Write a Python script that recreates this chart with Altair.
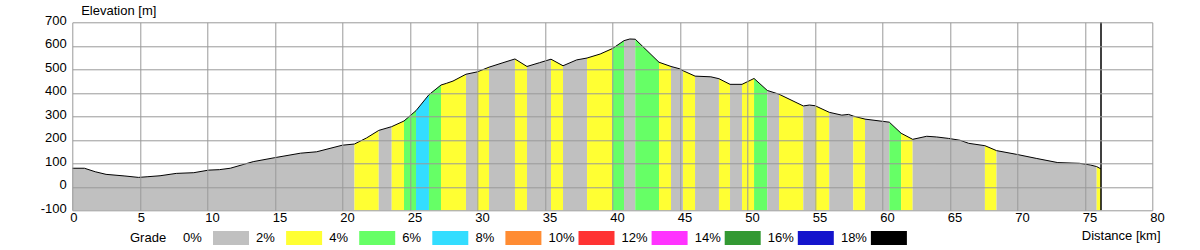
import altair as alt
import pandas as pd

# ---- profile data ----
dist_km = [0.0, 0.9, 1.7, 2.5, 3.9, 4.9, 5.6, 6.5, 7.7, 9.0, 10.1, 10.9, 11.7, 13.4, 15.0,
           16.9, 18.1, 20.0, 20.9, 21.8, 22.7, 23.66, 24.57, 25.46, 26.42, 27.31, 27.7, 28.2,
           29.16, 30.0, 30.87, 31.9, 32.79, 33.68, 34.6, 35.46, 36.35, 37.36, 38.13, 39.1,
           40.0, 40.87, 41.3, 41.7, 43.46, 44.35, 45.0, 45.24, 46.13, 47.3, 47.9, 48.72,
           49.61, 50.5, 51.48, 52.35, 54.15, 54.6, 55.02, 56.07, 57.0, 57.5, 57.85, 58.72,
           60.52, 61.39, 62.25, 63.29, 64.03, 64.89, 65.76, 66.4, 67.6, 68.46, 69.95, 71.4,
           73.0, 74.6, 75.4, 75.88, 76.2]
elev_m = [79, 79, 64, 53, 46, 40, 43, 47, 57, 60, 71, 73, 79, 107, 124,
          143, 149, 177, 182, 208, 240, 256, 280, 324, 392, 433, 440, 450,
          479, 489, 509, 528, 544, 512, 528, 543, 515, 540, 548, 565,
          588, 622, 629, 628, 530, 512, 502, 494, 471, 468, 460, 436,
          436, 461, 410, 394, 344, 348, 345, 317, 305, 308, 301, 288,
          275, 228, 202, 215, 212, 206, 198, 185, 175, 154, 138, 121,
          103, 100, 93, 86, 76]
# grade class of each interval (index into legend colours)
grade_cls = [0, 0, 0, 0, 0, 0, 0, 0, 0, 0, 0, 0, 0, 0, 0,
             0, 0, 0, 1, 1, 0, 1, 2, 3, 2, 1, 1, 1,
             0, 1, 0, 0, 1, 0, 0, 1, 0, 0, 1, 1,
             2, 0, 0, 2, 1, 0, 0, 1, 0, 0, 1, 0,
             1, 2, 0, 1, 0, 0, 1, 0, 0, 0, 1, 0,
             2, 1, 0, 0, 0, 0, 0, 0, 1, 0, 0, 0,
             0, 0, 0, 1]

grade_labels = ["0%", "2%", "4%", "6%", "8%", "10%", "12%", "14%", "16%", "18%"]
grade_colors = ["#C0C0C0", "#FFFF33", "#66FF66", "#33DDFF", "#FF8C33",
                "#FF3333", "#FF33FF", "#339933", "#1414CC", "#000000"]

FONT = "Liberation Sans"
FS = 13

# ---- build tables ----
profile = pd.DataFrame({"d": dist_km, "e": elev_m})
rows = []
seg = 0
for k, c in enumerate(grade_cls):
    if k > 0 and c != grade_cls[k - 1]:
        seg += 1
    rows.append({"seg": seg, "d": dist_km[k], "e": elev_m[k], "cls": c})
    rows.append({"seg": seg, "d": dist_km[k + 1], "e": elev_m[k + 1], "cls": c})
segs = pd.DataFrame(rows)

xscale = alt.Scale(domain=[0, 80], nice=False)
yscale = alt.Scale(domain=[-100, 700], nice=False)

x_axis = alt.Axis(values=list(range(0, 81, 5)), grid=True, gridColor="#999999", gridWidth=1,
                  domain=False, ticks=False, labelFont=FONT, labelFontSize=FS, labelColor="black",
                  labelAlign="left", labelOffset=-2.5, labelBaseline="top", labelPadding=1,
                  labelFlush=False, labelOverlap=False,
                  title="Distance [km]", titleFont=FONT, titleFontSize=FS, titleFontWeight="normal",
                  titleColor="black", titleAlign="right", titleBaseline="alphabetic",
                  titleX=1087.7, titleY=29.5, zindex=1)
y_axis = alt.Axis(values=list(range(-100, 701, 100)), grid=True, gridColor="#999999", gridWidth=1,
                  domain=False, ticks=False, labelFont=FONT, labelFontSize=FS, labelColor="black",
                  labelPadding=6, labelBaseline="middle", labelOffset=-2,
                  labelFlush=False, labelOverlap=False, labelExpr="'' + datum.value",
                  title="Elevation [m]", titleFont=FONT, titleFontSize=FS, titleFontWeight="normal",
                  titleColor="black", titleAngle=0, titleAlign="left", titleBaseline="alphabetic",
                  titleX=8.4, titleY=-7.3, zindex=1)

area = alt.Chart(segs).mark_area(interpolate="linear").encode(
    x=alt.X("d:Q", scale=xscale, axis=x_axis),
    y=alt.Y("e:Q", scale=yscale, axis=y_axis),
    y2=alt.datum(-100),
    color=alt.Color("cls:N", scale=alt.Scale(domain=list(range(10)), range=grade_colors), legend=None),
    detail="seg:N",
)
line = alt.Chart(profile).mark_line(color="black", strokeWidth=1).encode(
    x=alt.X("d:Q", scale=xscale, axis=x_axis), y=alt.Y("e:Q", scale=yscale, axis=y_axis)
)
end_rule = alt.Chart(pd.DataFrame({"d": [dist_km[-1]]})).mark_rule(color="black", strokeWidth=1.5).encode(
    x=alt.X("d:Q", scale=xscale, axis=x_axis)
)
main = alt.layer(area, line, end_rule)

# ---- legend row ----
leg = pd.DataFrame({"i": list(range(len(grade_labels))), "label": grade_labels, "color": grade_colors})
lx = alt.X("i:Q", scale=alt.Scale(domain=[0, 1], range=[110.7, 183.8]), axis=None)
rects = alt.Chart(leg).mark_rect(xOffset=30, x2Offset=66).encode(
    x=lx, x2=alt.X2("i:Q"), y=alt.value(208.7), y2=alt.value(222.7),
    color=alt.Color("color:N", scale=None),
)
texts = alt.Chart(leg).mark_text(align="left", baseline="alphabetic", font=FONT, fontSize=FS,
                                 color="black").encode(x=lx, y=alt.value(219.3), text="label:N")
grade_t = alt.Chart(pd.DataFrame({"t": ["Grade"]})).mark_text(
    align="left", baseline="alphabetic", font=FONT, fontSize=FS, color="black"
).encode(x=alt.value(57.7), y=alt.value(219.3), text="t:N")
legend = alt.layer(rects, texts, grade_t)

chart = alt.layer(main, legend).resolve_scale(x="independent", color="independent").properties(
    width=1080, height=188,
    autosize=alt.AutoSizeParams(type="none"),
    padding={"left": 72.3, "top": 22.3, "right": 47.7, "bottom": 39.7},
    background="white",
).configure_view(strokeWidth=0).configure_axis(labelOverlap=False)

chart.save("out.html", embed_options={"renderer": "svg", "actions": False})
